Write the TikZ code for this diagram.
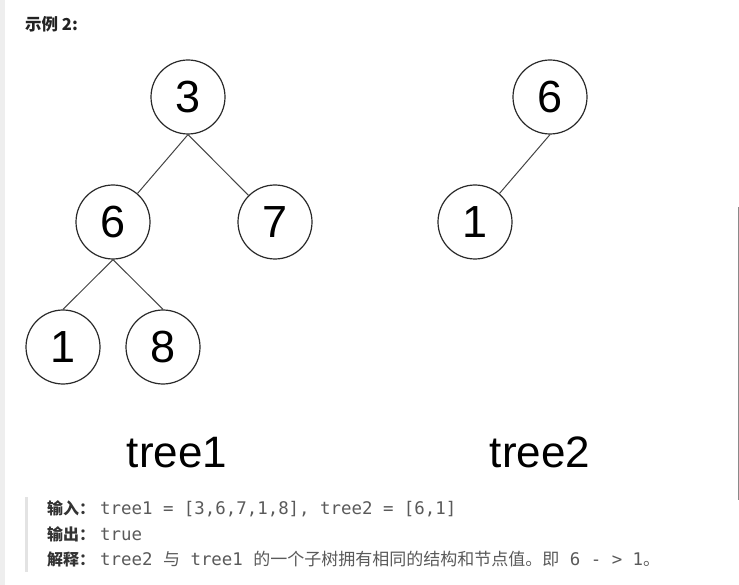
\documentclass[tikz,border=0pt]{standalone}
\usepackage{fontspec}
\setmainfont{Liberation Sans}
\newfontfamily\zh{Noto Sans CJK SC}
\newfontfamily\monof{DejaVu Sans Mono}
\definecolor{stripgray}{HTML}{EEEEEE}
\definecolor{quotegray}{HTML}{E3E3E3}
\definecolor{rulegray}{HTML}{8A8A8A}
\definecolor{ink}{HTML}{222222}
\definecolor{labink}{HTML}{333333}
\definecolor{codeink}{HTML}{5A5A5A}
\definecolor{circink}{HTML}{2A2A2A}
\definecolor{edgeink}{HTML}{444444}
\tikzset{
  tn/.style={circle, draw=circink, line width=1.2pt, minimum size=74pt, inner sep=0pt,
    font=\fontsize{45}{50}\selectfont, text=black},
  edge/.style={draw=edgeink, line width=1pt},
  treelab/.style={anchor=base, inner sep=0pt, font=\fontsize{44}{50}\selectfont, text=black},
  lab/.style={anchor=base west, inner sep=0pt, font=\zh\bfseries\fontsize{16}{20}\selectfont, text=labink},
  code/.style={anchor=base west, inner sep=0pt, font=\monof\fontsize{17.4}{20}\selectfont, text=codeink},
}
\newcommand{\zhc}[1]{{\zh\fontsize{17}{20}\selectfont #1}}
\begin{document}
\begin{tikzpicture}[x=1pt,y=-1pt]
\useasboundingbox (0,0) rectangle (739,585);
\fill[white] (0,0) rectangle (739,585);
\fill[stripgray] (0,0) rectangle (5,585);
\fill[quotegray] (25,497) rectangle (28,572);
\draw[rulegray, line width=1pt] (738,207) -- (738,500);

\node[anchor=base west, inner sep=0pt, font=\zh\bfseries\fontsize{16.5}{20}\selectfont, text=ink] (hdr) at (25,31) {示例 2:};

% tree1
\node[tn] (a3) at (188,97) {3};
\node[tn] (a6) at (113,222) {6};
\node[tn] (a7) at (275,222) {7};
\node[tn] (a1) at (63,347) {1};
\node[tn] (a8) at (163,347) {8};
\draw[edge] (a3.south) -- (a6);
\draw[edge] (a3.south) -- (a7);
\draw[edge] (a6.south) -- (a1.north);
\draw[edge] (a6.south) -- (a8.north);

% tree2
\node[tn] (b6) at (550,97) {6};
\node[tn] (b1) at (475,222) {1};
\draw[edge] (b6.south) -- (b1);

\node[treelab] (t1) at (177,467) {tree1};
\node[treelab] (t2) at (540,467) {tree2};

% explanation block
\node[lab] (l1) at (47,514) {输入：};
\node[code] (c1) at (100,514) {tree1 = [3,6,7,1,8], tree2 = [6,1]};
\node[lab] (l2) at (47,540) {输出：};
\node[code] (c2) at (100,540) {true};
\node[lab] (l3) at (47,565) {解释：};
\node[code] (c3) at (100,565) {tree2 \zhc{与} tree1 \zhc{的一个子树拥有相同的结构和节点值。即} 6 - > 1\zhc{。}};
\end{tikzpicture}
\end{document}
